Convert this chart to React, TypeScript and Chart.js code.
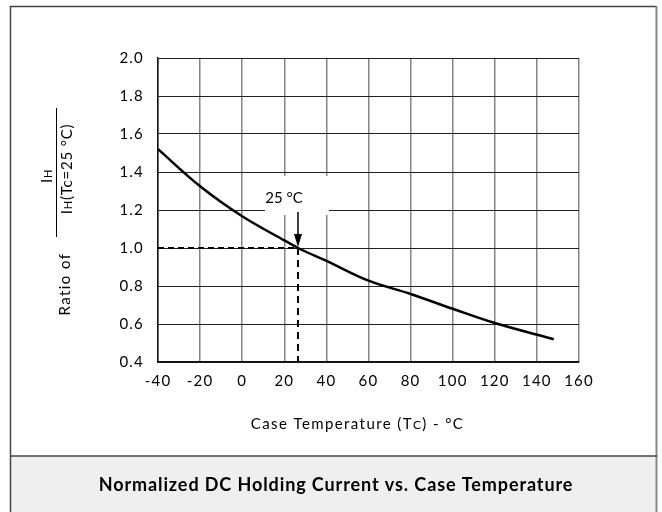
import React, { useEffect, useRef } from "react";
import { Chart, registerables } from "chart.js";

Chart.register(...registerables);

// ---- data ----
const temperatures = [-40, -20, 0, 20, 26.5, 40, 60, 80, 100, 120, 148];
const ratios = [1.52, 1.325, 1.167, 1.04, 1.0, 0.932, 0.828, 0.758, 0.68, 0.605, 0.52];
const xTickValues = [-40, -20, 0, 20, 40, 60, 80, 100, 120, 140, 160];
const yTickValues = [0.4, 0.6, 0.8, 1.0, 1.2, 1.4, 1.6, 1.8, 2.0];
const refTemp = 26.5;
const refRatio = 1.0;
const refLabel = "25 °C";
const xTitleParts = ["Case Temperature (T", "C", ") - °C"];
const yTitleLead = "Ratio of";
const chartTitle = "Normalized DC Holding Current vs. Case Temperature";

const FONT = "Lato, 'Open Sans', sans-serif";

function drawParts(ctx: CanvasRenderingContext2D, parts: [string, number][], cx: number, cy: number) {
  let total = 0;
  const widths = parts.map(([t, s]) => {
    ctx.font = `${s}px ${FONT}`;
    const w = ctx.measureText(t).width;
    total += w;
    return w;
  });
  let x = cx - total / 2;
  ctx.textAlign = "left";
  ctx.textBaseline = "alphabetic";
  parts.forEach(([t, s], i) => {
    ctx.font = `${s}px ${FONT}`;
    ctx.fillText(t, x, cy);
    x += widths[i];
  });
}

const framePlugin = {
  id: "frame",
  beforeDraw(chart: any) {
    const ctx = chart.ctx as any;
    ctx.save();
    ctx.fillStyle = "#ffffff";
    ctx.fillRect(0, 0, chart.width, chart.height);
    ctx.fillStyle = "#efefef";
    ctx.fillRect(11, 456, 646, 60);
    ctx.strokeStyle = "#444";
    ctx.lineWidth = 1.5;
    ctx.beginPath();
    ctx.moveTo(10.5, 512);
    ctx.lineTo(10.5, 6.5);
    ctx.lineTo(656.5, 6.5);
    ctx.stroke();
    ctx.strokeStyle = "#888";
    ctx.lineWidth = 2;
    ctx.beginPath();
    ctx.moveTo(656.5, 6);
    ctx.lineTo(656.5, 512);
    ctx.stroke();
    ctx.strokeStyle = "#444";
    ctx.lineWidth = 1.5;
    ctx.beginPath();
    ctx.moveTo(10, 456);
    ctx.lineTo(657, 456);
    ctx.stroke();
    ctx.restore();
    // wider letter spacing for tick labels, as in the reference
    ctx.letterSpacing = "1.2px";
  },
  afterDraw(chart: any) {
    const ctx = chart.ctx as any;
    const xs = chart.scales.x;
    const ys = chart.scales.y;
    const area = chart.chartArea;
    ctx.save();
    ctx.letterSpacing = "0px";
    ctx.fillStyle = "#000";

    // annotation
    const ax = xs.getPixelForValue(refTemp);
    const ay = ys.getPixelForValue(refRatio);
    ctx.fillStyle = "#fff";
    ctx.fillRect(ax - 33, ay - 72, 64, 39);
    ctx.fillStyle = "#000";
    ctx.font = `15px ${FONT}`;
    ctx.textAlign = "center";
    ctx.textBaseline = "middle";
    ctx.fillText(refLabel, ax - 14, ay - 50);
    ctx.strokeStyle = "#000";
    ctx.lineWidth = 1.5;
    ctx.beginPath();
    ctx.moveTo(ax, ay - 36);
    ctx.lineTo(ax, ay - 10);
    ctx.stroke();
    ctx.beginPath();
    ctx.moveTo(ax - 4, ay - 14);
    ctx.lineTo(ax + 4, ay - 14);
    ctx.lineTo(ax, ay - 1);
    ctx.closePath();
    ctx.fill();

    // x title
    ctx.letterSpacing = "1.4px";
    const midX = (area.left + area.right) / 2 - 11;
    drawParts(ctx, [[xTitleParts[0], 15], [xTitleParts[1], 12], [xTitleParts[2], 15]], midX, 429);

    // y title (rotated)
    ctx.save();
    ctx.translate(65, 284);
    ctx.rotate(-Math.PI / 2);
    ctx.font = `15px ${FONT}`;
    ctx.textAlign = "center";
    ctx.textBaseline = "middle";
    ctx.fillText(yTitleLead, 0, 0);
    ctx.restore();

    ctx.strokeStyle = "#000";
    ctx.lineWidth = 1;
    ctx.beginPath();
    ctx.moveTo(56.5, 108);
    ctx.lineTo(56.5, 237);
    ctx.stroke();

    ctx.letterSpacing = "0.8px";
    ctx.save();
    ctx.translate(52, 176);
    ctx.rotate(-Math.PI / 2);
    drawParts(ctx, [["I", 15], ["H", 11]], 0, 0);
    ctx.restore();

    ctx.save();
    ctx.translate(72, 169);
    ctx.rotate(-Math.PI / 2);
    drawParts(ctx, [["I", 15], ["H", 11], ["(Tc=25 °C)", 15]], 0, 0);
    ctx.restore();

    // chart title
    ctx.letterSpacing = "0.9px";
    ctx.fillStyle = "#000";
    ctx.font = `bold 18px ${FONT}`;
    ctx.textAlign = "center";
    ctx.textBaseline = "middle";
    ctx.fillText(chartTitle, 336, 485);
    ctx.restore();
    ctx.letterSpacing = "0px";
  },
};

export default function App() {
  const ref = useRef<HTMLCanvasElement>(null);
  useEffect(() => {
    document.body.style.margin = "0";
    const canvas = ref.current!;
    const chart = new Chart(canvas, {
      type: "line",
      data: {
        datasets: [
          {
            data: temperatures.map((t, i) => ({ x: t, y: ratios[i] })),
            borderColor: "#000",
            borderWidth: 2.5,
            pointRadius: 0,
            cubicInterpolationMode: "monotone",
            fill: false,
          },
          {
            data: [
              { x: xTickValues[0], y: refRatio },
              { x: refTemp, y: refRatio },
            ],
            borderColor: "#000",
            borderWidth: 2,
            borderDash: [6, 4],
            pointRadius: 0,
          },
          {
            data: [
              { x: refTemp, y: refRatio },
              { x: refTemp, y: yTickValues[0] },
            ],
            borderColor: "#000",
            borderWidth: 2,
            borderDash: [7, 5],
            pointRadius: 0,
          },
        ],
      },
      options: {
        animation: false,
        responsive: false,
        devicePixelRatio: 1,
        layout: { padding: { left: 0, top: 58, right: 83, bottom: 0 } },
        plugins: { legend: { display: false }, tooltip: { enabled: false }, title: { display: false } },
        scales: {
          x: {
            type: "linear",
            min: xTickValues[0],
            max: xTickValues[xTickValues.length - 1],
            afterBuildTicks: (s: any) => {
              s.ticks = xTickValues.map((v) => ({ value: v }));
            },
            afterFit: (s: any) => {
              s.height = 150;
            },
            grid: { color: "#858585", lineWidth: 1.5, drawTicks: false },
            border: { color: "#111", width: 1.5 },
            ticks: {
              color: "#000",
              padding: 10,
              font: { family: FONT, size: 15 },
              callback: (v: any) => String(v),
            },
          },
          y: {
            type: "linear",
            min: yTickValues[0],
            max: yTickValues[yTickValues.length - 1],
            afterBuildTicks: (s: any) => {
              s.ticks = yTickValues.map((v) => ({ value: v }));
            },
            afterFit: (s: any) => {
              s.width = 158;
            },
            grid: { color: "#222", lineWidth: 1, drawTicks: false },
            border: { color: "#111", width: 1.5 },
            ticks: {
              color: "#000",
              padding: 14,
              font: { family: FONT, size: 15 },
              callback: (v: any) => Number(v).toFixed(1),
            },
          },
        },
      },
      plugins: [framePlugin],
    });
    return () => chart.destroy();
  }, []);
  return (
    <div style={{ width: 662, height: 512 }}>
      <canvas ref={ref} width={662} height={512} style={{ display: "block" }} />
    </div>
  );
}
